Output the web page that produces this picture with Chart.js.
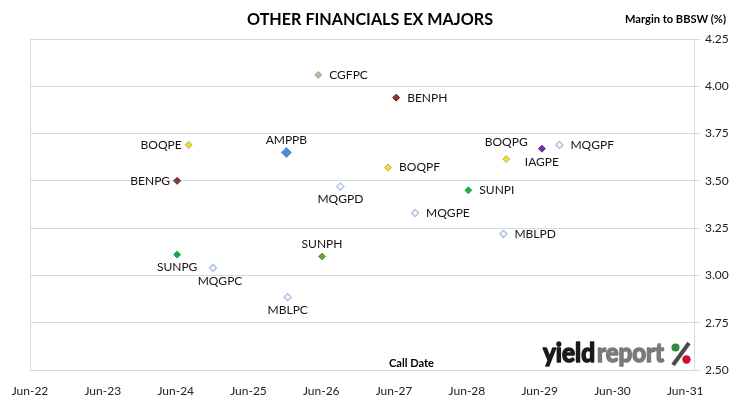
<!DOCTYPE html>
<html lang="en">
<head>
  <meta charset="UTF-8" />
  <title>Other Financials ex Majors</title>
  <script src="https://cdn.jsdelivr.net/npm/chart.js"></script>
  <style>
    html, body { margin: 0; padding: 0; background: #fff; }
    #wrap { width: 730px; height: 399px; }
  </style>
</head>
<body>
  <div id="wrap"><canvas id="chart" width="730" height="399"></canvas></div>

  <script>
    // securities, call dates and margin to BBSW (%)
    const codes = ["CGFPC", "BENPH", "BOQPE", "AMPPB", "BENPG", "MQGPD", "BOQPF", "BOQPG", "IAGPE",
                   "MQGPF", "SUNPI", "MQGPE", "MBLPD", "SUNPG", "MQGPC", "SUNPH", "MBLPC"];
    const callDates = ["2026-05-17", "2027-06-12", "2024-08-05", "2025-12-08", "2024-06-08", "2026-09-05",
                       "2027-05-02", "2028-12-15", "2029-06-12", "2029-09-08", "2028-06-08", "2027-09-15",
                       "2028-12-01", "2024-06-08", "2024-12-05", "2026-06-05", "2025-12-15"];
    const margins = [4.06, 3.94, 3.69, 3.65, 3.50, 3.47, 3.57, 3.615, 3.67,
                     3.69, 3.45, 3.33, 3.22, 3.11, 3.04, 3.10, 2.885];
    const tickYears = [2022, 2023, 2024, 2025, 2026, 2027, 2028, 2029, 2030, 2031];
    const yTicks = [2.50, 2.75, 3.00, 3.25, 3.50, 3.75, 4.00, 4.25];

    // styling per issuer
    const fills = ["#B2C28C", "#8E3535", "#F2E600", "#4F8BD8", "#8E3535", "#FFFFFF", "#F2E600", "#F2E600", "#7030A0",
                   "#FFFFFF", "#1DB040", "#FFFFFF", "#FFFFFF", "#1AA84C", "#FFFFFF", "#6A9F3E", "#FFFFFF"];
    const borders = ["#9AA6B8", "#5E2222", "#A8A8A8", "#5B8FD0", "#5E2222", "#B4C6E6", "#A8A8A8", "#A8A8A8", "#6A2D96",
                     "#B4C6E6", "#1DB040", "#B4C6E6", "#B4C6E6", "#1AA84C", "#B4C6E6", "#6A9F3E", "#B4C6E6"];
    const labelPos = ["right", "right", "left", "above", "left", "below", "right", "above2", "below",
                      "right", "right", "right", "right", "below", "below2", "above", "below"];

    const junTime = y => Date.UTC(y, 5, 1);
    const points = callDates.map((d, i) => ({ x: Date.parse(d + "T00:00:00Z"), y: margins[i] }));

    const fitText = (ctx, text, x, y, w, bold) => {
      const m = ctx.measureText(text).width;
      ctx.save();
      ctx.translate(x, y);
      ctx.scale(w / m, 1);
      if (bold) {
        ctx.strokeStyle = ctx.fillStyle;
        ctx.lineWidth = bold;
        ctx.lineJoin = "round";
        ctx.strokeText(text, 0, 0);
      }
      ctx.fillText(text, 0, 0);
      ctx.restore();
    };

    const extras = {
      id: "extras",
      afterDraw(chart) {
        const ctx = chart.ctx;
        const a = chart.chartArea;
        ctx.save();
        // left border of plot
        ctx.strokeStyle = "#D9D9D9";
        ctx.lineWidth = 1;
        ctx.beginPath();
        ctx.moveTo(a.left + 0.5, a.top);
        ctx.lineTo(a.left + 0.5, a.bottom);
        ctx.stroke();

        // point labels
        const meta = chart.getDatasetMeta(0);
        ctx.font = "12px Lato";
        ctx.fillStyle = "#1a1010";
        ctx.textBaseline = "middle";
        meta.data.forEach((el, i) => {
          const p = labelPos[i];
          let x = el.x, y = el.y;
          if (p === "right") { ctx.textAlign = "left"; x += 11; }
          else if (p === "left") { ctx.textAlign = "right"; x -= 7; }
          else if (p === "above") { ctx.textAlign = "center"; y -= 12; }
          else if (p === "above2") { ctx.textAlign = "center"; y -= 17; }
          else if (p === "below2") { ctx.textAlign = "center"; x += 7; y += 13; }
          else { ctx.textAlign = "center"; y += 13; }
          ctx.fillText(codes[i], x, y);
        });

        // titles
        ctx.fillStyle = "#000";
        ctx.textAlign = "left";
        ctx.textBaseline = "alphabetic";
        ctx.font = "bold 17px Lato";
        fitText(ctx, "OTHER FINANCIALS EX MAJORS", 247, 25, 246);
        ctx.font = "bold 11px Lato";
        fitText(ctx, "Margin to BBSW (%)", 625, 23, 101);
        fitText(ctx, "Call Date", 389, 367, 45);

        // logo
        ctx.font = "bold 27px Lato";
        ctx.fillStyle = "#1a1a1a";
        fitText(ctx, "yield", 543, 362, 52, 1.6);
        ctx.fillStyle = "#7a7a7a";
        fitText(ctx, "report", 597, 362, 67, 1.6);
        ctx.strokeStyle = "#4a4a4a";
        ctx.lineWidth = 4;
        ctx.beginPath();
        ctx.moveTo(689, 343);
        ctx.lineTo(673, 365);
        ctx.stroke();
        ctx.fillStyle = "#2E8B3A";
        ctx.beginPath(); ctx.arc(675.5, 347.5, 4, 0, Math.PI * 2); ctx.fill();
        ctx.fillStyle = "#C8102E";
        ctx.beginPath(); ctx.arc(686.5, 359.5, 4.2, 0, Math.PI * 2); ctx.fill();
        ctx.restore();
      }
    };

    new Chart(document.getElementById("chart"), {
      type: "scatter",
      data: {
        datasets: [{
          data: points,
          pointStyle: "rectRot",
          pointRadius: codes.map(c => c === "AMPPB" ? 5 : 3.5),
          pointHoverRadius: codes.map(c => c === "AMPPB" ? 5 : 3.5),
          pointBackgroundColor: fills,
          pointBorderColor: borders,
          pointBorderWidth: fills.map(f => f === "#FFFFFF" ? 1.6 : 1)
        }]
      },
      options: {
        responsive: false,
        animation: false,
        layout: { padding: { left: 30, top: 39, right: 0, bottom: 0 } },
        plugins: {
          legend: { display: false },
          tooltip: { enabled: false }
        },
        scales: {
          x: {
            type: "linear",
            min: junTime(2022),
            max: Date.UTC(2031, 6, 15),
            afterBuildTicks: s => { s.ticks = tickYears.map(y => ({ value: junTime(y) })); },
            afterFit: s => { s.height = 29; },
            ticks: {
              autoSkip: false,
              maxRotation: 0,
              padding: 6,
              color: "#222",
              font: { family: "Lato", size: 12 },
              callback: v => "Jun-" + String(new Date(v).getUTCFullYear()).slice(2)
            },
            grid: { display: false },
            border: { display: true, color: "#D9D9D9" }
          },
          y: {
            position: "right",
            min: 2.5,
            max: 4.25,
            afterBuildTicks: s => { s.ticks = yTicks.map(v => ({ value: v })); },
            afterFit: s => { s.width = 36; },
            ticks: {
              padding: 5,
              color: "#222",
              font: { family: "Lato", size: 12 },
              callback: v => v.toFixed(2)
            },
            grid: { color: "#D9D9D9", tickLength: 6, tickColor: "#D9D9D9" },
            border: { display: true, color: "#D9D9D9" }
          }
        }
      },
      plugins: [extras]
    });
  </script>
</body>
</html>
